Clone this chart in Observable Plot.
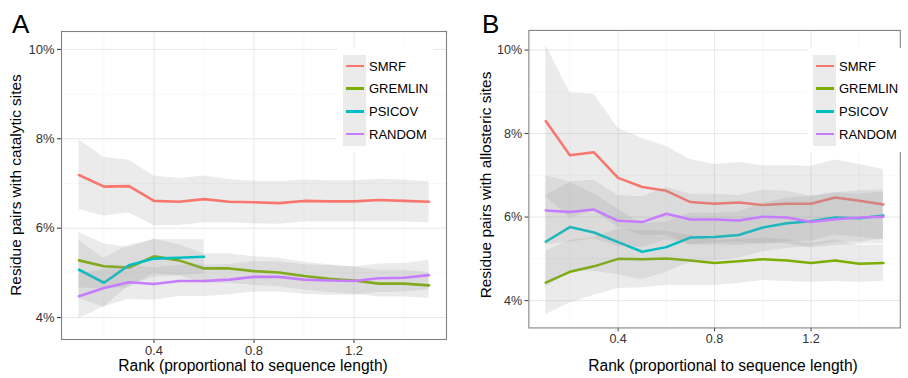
<!DOCTYPE html>
<html>
<head>
<meta charset="utf-8">
<script src="https://cdn.jsdelivr.net/npm/d3@7"></script>
<script src="https://cdn.jsdelivr.net/npm/@observablehq/plot@0.6"></script>
<style>
  html, body { margin: 0; padding: 0; background: #fff; }
  body { width: 908px; height: 378px; overflow: hidden; position: relative; font-family: "Liberation Sans", Arial, sans-serif; }
  .panel { position: absolute; top: 0; }
  .letter { position: absolute; font-size: 26px; color: #000; line-height: 1; }
  .xtitle { position: absolute; font-size: 15.6px; color: #000; white-space: nowrap; transform: translateX(-50%); }
  .ytitle { position: absolute; font-size: 15.4px; color: #000; white-space: nowrap; transform: translate(-50%, -50%) rotate(-90deg); }
  .legend { position: absolute; background: #fff; }
  .keycol { position: absolute; background: #ebebeb; }
  .item { position: absolute; height: 22px; display: flex; align-items: center; white-space: nowrap; font-size: 13px; color: #000; }
  .item .sw { width: 18px; height: 2.5px; margin-left: 3px; margin-right: 5px; }
</style>
</head>
<body>
<script>
// ---------- data ----------
const ranks = [0.1, 0.2, 0.3, 0.4, 0.5, 0.6, 0.7, 0.8, 0.9, 1.0, 1.1, 1.2, 1.3, 1.4, 1.5];
const methods = ["SMRF", "GREMLIN", "PSICOV", "RANDOM"];
const methodColors = ["#F8766D", "#7CAE00", "#00BFC4", "#C77CFF"];
const yTicks = [4, 6, 8, 10];
const yMinorTicks = [5, 7, 9];
const xTicks = [0.4, 0.8, 1.2];
const xMinorTicks = [0.2, 0.6, 1.0, 1.4];

// Panel A: catalytic sites (%)
const catSMRF    = [7.19, 6.93, 6.94, 6.61, 6.59, 6.65, 6.59, 6.58, 6.56, 6.61, 6.60, 6.60, 6.63, 6.61, 6.59];
const catSMRFLo  = [6.42, 6.27, 6.34, 6.06, 6.06, 6.12, 6.12, 6.10, 6.09, 6.14, 6.14, 6.14, 6.14, 6.14, 6.12];
const catSMRFHi  = [7.98, 7.58, 7.52, 7.17, 7.11, 7.17, 7.09, 7.05, 7.04, 7.08, 7.06, 7.06, 7.09, 7.08, 7.04];
const catGREM    = [5.28, 5.15, 5.12, 5.37, 5.28, 5.10, 5.10, 5.04, 5.01, 4.93, 4.87, 4.83, 4.76, 4.76, 4.72];
const catGREMLo  = [4.66, 4.65, 4.67, 4.99, 4.93, 4.77, 4.77, 4.72, 4.69, 4.62, 4.56, 4.53, 4.46, 4.46, 4.43];
const catGREMHi  = [5.90, 5.65, 5.57, 5.75, 5.63, 5.43, 5.43, 5.36, 5.33, 5.24, 5.18, 5.13, 5.06, 5.06, 5.01];
const catPSIC    = [5.07, 4.78, 5.17, 5.32, 5.34, 5.36];
const catPSICLo  = [4.42, 4.23, 4.72, 4.90, 4.94, 4.98];
const catPSICHi  = [5.72, 5.33, 5.62, 5.74, 5.74, 5.74];
const catRAND    = [4.48, 4.66, 4.79, 4.75, 4.82, 4.82, 4.85, 4.91, 4.91, 4.85, 4.83, 4.82, 4.88, 4.89, 4.95];
const catRANDLo  = [3.98, 4.24, 4.41, 4.39, 4.47, 4.47, 4.51, 4.57, 4.57, 4.52, 4.50, 4.50, 4.56, 4.57, 4.62];
const catRANDHi  = [4.98, 5.08, 5.17, 5.11, 5.17, 5.17, 5.19, 5.25, 5.25, 5.18, 5.16, 5.14, 5.20, 5.21, 5.28];

// Panel B: allosteric sites (%)
const allSMRF    = [8.30, 7.48, 7.55, 6.94, 6.72, 6.63, 6.36, 6.32, 6.35, 6.29, 6.32, 6.32, 6.47, 6.39, 6.30];
const allSMRFLo  = [6.49, 5.98, 6.16, 5.75, 5.56, 5.57, 5.34, 5.38, 5.39, 5.35, 5.41, 5.43, 5.57, 5.52, 5.46];
const allSMRFHi  = [10.12, 8.98, 8.94, 8.13, 7.88, 7.69, 7.38, 7.26, 7.31, 7.23, 7.23, 7.21, 7.37, 7.26, 7.14];
const allGREM    = [4.43, 4.69, 4.82, 5.00, 4.99, 5.01, 4.96, 4.90, 4.94, 4.99, 4.96, 4.90, 4.96, 4.88, 4.90];
const allGREMLo  = [3.67, 3.94, 4.13, 4.29, 4.31, 4.36, 4.36, 4.36, 4.41, 4.48, 4.46, 4.44, 4.46, 4.44, 4.46];
const allGREMHi  = [5.19, 5.44, 5.51, 5.71, 5.67, 5.66, 5.56, 5.44, 5.47, 5.50, 5.46, 5.36, 5.46, 5.32, 5.34];
const allPSIC    = [5.41, 5.76, 5.63, 5.40, 5.17, 5.28, 5.51, 5.52, 5.57, 5.75, 5.85, 5.90, 5.99, 5.97, 6.04];
const allPSICLo  = [4.32, 4.70, 4.70, 4.62, 4.50, 4.68, 4.92, 4.95, 5.02, 5.17, 5.25, 5.30, 5.40, 5.40, 5.48];
const allPSICHi  = [6.51, 6.82, 6.56, 6.18, 5.84, 5.88, 6.10, 6.09, 6.12, 6.33, 6.45, 6.50, 6.58, 6.54, 6.60];
const allRAND    = [6.16, 6.12, 6.18, 5.91, 5.88, 6.08, 5.94, 5.94, 5.92, 6.01, 5.99, 5.88, 5.95, 5.99, 6.01];
const allRANDLo  = [5.33, 5.40, 5.48, 5.30, 5.28, 5.45, 5.33, 5.33, 5.32, 5.38, 5.36, 5.26, 5.32, 5.35, 5.37];
const allRANDHi  = [6.99, 6.84, 6.88, 6.52, 6.48, 6.71, 6.55, 6.55, 6.52, 6.64, 6.62, 6.50, 6.58, 6.63, 6.65];

// ---------- build ----------
function series(method, mid, lo, hi) {
  return mid.map((v, i) => ({rank: ranks[i], method, value: v, lo: lo[i], hi: hi[i]}));
}
const panelA = [
  series("SMRF", catSMRF, catSMRFLo, catSMRFHi),
  series("GREMLIN", catGREM, catGREMLo, catGREMHi),
  series("PSICOV", catPSIC, catPSICLo, catPSICHi),
  series("RANDOM", catRAND, catRANDLo, catRANDHi)
];
const panelB = [
  series("SMRF", allSMRF, allSMRFLo, allSMRFHi),
  series("GREMLIN", allGREM, allGREMLo, allGREMHi),
  series("PSICOV", allPSIC, allPSICLo, allPSICHi),
  series("RANDOM", allRAND, allRANDLo, allRANDHi)
];

function makePanel(groups, opts) {
  const marks = [
    Plot.gridY(yMinorTicks, {stroke: "#f3f3f3", strokeOpacity: 1, strokeWidth: 0.6}),
    Plot.gridX(xMinorTicks, {stroke: "#f3f3f3", strokeOpacity: 1, strokeWidth: 0.6}),
    Plot.gridY(yTicks, {stroke: "#e6e6e6", strokeOpacity: 1, strokeWidth: 1}),
    Plot.gridX(xTicks, {stroke: "#e6e6e6", strokeOpacity: 1, strokeWidth: 1})
  ];
  groups.forEach((g, i) => {
    marks.push(Plot.areaY(g, {x: "rank", y1: "lo", y2: "hi", fill: "#999999", fillOpacity: 0.2}));
    marks.push(Plot.lineY(g, {x: "rank", y: "value", stroke: methodColors[i], strokeWidth: 2.6}));
  });
  marks.push(Plot.axisY(yTicks, {tickSize: 4, tickPadding: 3, tickFormat: d => d + "%", color: "#333", fontSize: 13, label: null}));
  marks.push(Plot.axisX(xTicks, {tickSize: 4, tickPadding: 2, tickFormat: d => d.toFixed(1), color: "#333", fontSize: 13, label: null}));
  marks.push(Plot.frame({stroke: "#808080", strokeWidth: 1.1}));
  return Plot.plot({
    width: opts.width,
    height: 378,
    marginLeft: opts.marginLeft,
    marginRight: opts.marginRight,
    marginTop: 31,
    marginBottom: 39,
    x: {domain: [0.03, 1.57]},
    y: {domain: opts.yDomain},
    style: {fontFamily: "Liberation Sans, Arial, sans-serif", fontSize: "13px", background: "transparent", color: "#333"},
    marks
  });
}

function addPanel(left, groups, opts) {
  const div = document.createElement("div");
  div.className = "panel";
  div.style.left = left + "px";
  div.appendChild(makePanel(groups, opts));
  document.body.appendChild(div);
}

addPanel(0, panelA, {width: 454, marginLeft: 61, marginRight: 8, yDomain: [3.51, 10.4]});
addPanel(454, panelB, {width: 470, marginLeft: 77, marginRight: 8.5, yDomain: [3.345, 10.47]});

function addText(cls, text, css) {
  const d = document.createElement("div");
  d.className = cls;
  d.textContent = text;
  Object.assign(d.style, css);
  document.body.appendChild(d);
}
addText("letter", "A", {left: "12px", top: "11px"});
addText("letter", "B", {left: "482px", top: "11px"});
addText("xtitle", "Rank (proportional to sequence length)", {left: "253px", top: "357px"});
addText("xtitle", "Rank (proportional to sequence length)", {left: "723px", top: "357px"});
addText("ytitle", "Residue pairs with catalytic sites", {left: "16px", top: "185px"});
addText("ytitle", "Residue pairs with allosteric sites", {left: "486px", top: "185px"});

function addLegend(left, width) {
  const box = document.createElement("div");
  box.className = "legend";
  Object.assign(box.style, {left: left + "px", top: "48px", width: width + "px", height: "104px"});
  const kc = document.createElement("div");
  kc.className = "keycol";
  Object.assign(kc.style, {left: "6px", top: "7px", width: "23px", height: "91px"});
  box.appendChild(kc);
  methods.forEach((m, i) => {
    const it = document.createElement("div");
    it.className = "item";
    Object.assign(it.style, {left: "6px", top: (7 + i * 22.7) + "px"});
    const sw = document.createElement("div");
    sw.className = "sw";
    sw.style.background = methodColors[i];
    it.appendChild(sw);
    const t = document.createElement("span");
    t.textContent = m;
    it.appendChild(t);
    box.appendChild(it);
  });
  document.body.appendChild(box);
}
addLegend(337, 96);
addLegend(807, 110);
</script>
</body>
</html>
